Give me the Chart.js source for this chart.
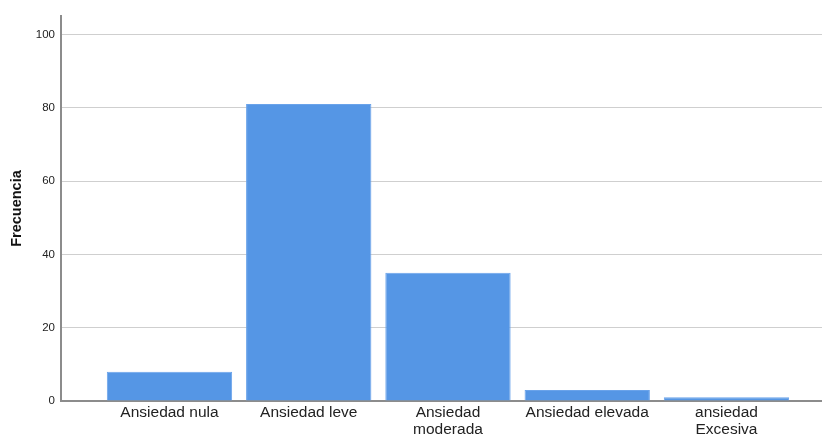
<!DOCTYPE html>
<html>
<head>
<meta charset="utf-8">
<script src="https://cdn.jsdelivr.net/npm/chart.js@4/dist/chart.umd.min.js"></script>
<style>
  html, body { margin: 0; padding: 0; background: #fff; }
  #wrap { width: 822px; height: 439px; }
</style>
</head>
<body>
<div id="wrap"><canvas id="freqChart"></canvas></div>
<script>
// categories and counts
const categories = [
    ['Ansiedad nula'],
    ['Ansiedad leve'],
    ['Ansiedad', 'moderada'],
    ['Ansiedad elevada'],
    ['ansiedad', 'Excesiva']
];
const positions = [1, 2, 3, 4, 5];
const frecuencia = [8, 81, 35, 3, 1];
const yTicks = [0, 20, 40, 60, 80, 100];

const ctx = document.getElementById('freqChart').getContext('2d');

const barData = {
    datasets: [{
        label: 'Frecuencia',
        data: positions.map((p, i) => ({ x: p, y: frecuencia[i] })),
        backgroundColor: '#5596e5',
        borderColor: '#6aa3ea',
        borderWidth: 1,
        borderSkipped: 'bottom',
        barPercentage: 0.9,
        categoryPercentage: 1.0,
    }],
};

const chartConfig = {
    type: 'bar',
    data: barData,
    options: {
        responsive: true,
        maintainAspectRatio: false,
        animation: false,
        layout: { padding: { top: 16, right: 0, left: 0, bottom: 0 } },
        plugins: {
            legend: { display: false },
            tooltip: { enabled: false },
        },
        scales: {
            x: {
                type: 'linear',
                offset: false,
                min: 0.221,
                max: 5.686,
                afterBuildTicks: (scale) => {
                    scale.ticks = positions.map(v => ({ value: v }));
                },
                afterFit: (scale) => { scale.height = 38; },
                grid: { display: false, drawTicks: false, offset: false },
                border: { color: '#8c8c8c', width: 2 },
                ticks: {
                    autoSkip: false,
                    maxRotation: 0,
                    padding: 4,
                    color: '#222',
                    font: { family: 'Liberation Sans, Arial, sans-serif', size: 15.5, lineHeight: 1.05 },
                    callback: (v) => categories[positions.indexOf(v)] || '',
                },
            },
            y: {
                min: 0,
                max: 105,
                afterBuildTicks: (scale) => {
                    scale.ticks = yTicks.map(v => ({ value: v }));
                },
                afterFit: (scale) => { scale.width = 61; },
                grid: { color: '#cfcfcf', lineWidth: 1, drawTicks: false },
                border: { color: '#8c8c8c', width: 2 },
                ticks: {
                    padding: 6,
                    color: '#222',
                    font: { family: 'Liberation Sans, Arial, sans-serif', size: 11.5 },
                },
                title: {
                    display: true,
                    text: 'Frecuencia',
                    color: '#111',
                    padding: { top: 8, bottom: 0 },
                    font: { family: 'Liberation Sans, Arial, sans-serif', size: 14.5, weight: 'bold' },
                },
            },
        },
    },
};

const freqChart = new Chart(ctx, chartConfig);
</script>
</body>
</html>
